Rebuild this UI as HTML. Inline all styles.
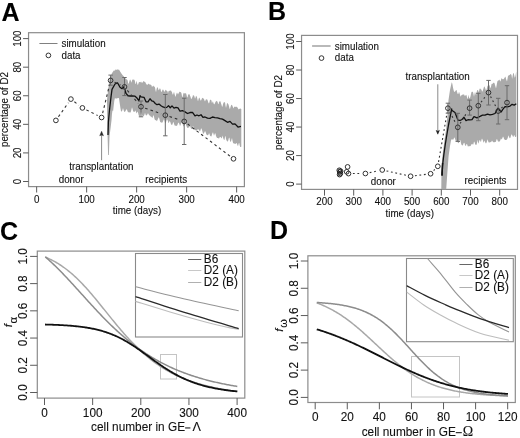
<!DOCTYPE html><html><head><meta charset="utf-8"><style>html,body{margin:0;padding:0;background:#fff;}svg{display:block;}#w{width:520px;height:438px;will-change:transform;}text{font-family:"Liberation Sans",sans-serif;-webkit-font-smoothing:antialiased;stroke:#111;stroke-width:0.1px;}</style></head><body><div id="w">
<svg width="520" height="438" viewBox="0 0 520 438">
<rect width="520" height="438" fill="#fff"/>
<text x="1.5" y="20.5" font-size="25" font-weight="bold" fill="#000">A</text>
<polygon points="107.00,99.88 107.50,95.22 108.00,90.62 108.50,87.26 109.00,83.14 109.50,79.54 110.10,78.44 110.70,76.78 111.30,74.95 111.90,73.15 112.43,72.52 112.95,71.64 113.47,70.96 114.00,70.28 114.50,70.66 115.00,70.54 115.50,69.41 116.00,69.56 116.50,69.69 117.00,70.11 117.50,69.26 118.00,69.40 118.56,69.77 119.12,69.86 119.68,70.71 120.24,71.70 120.80,72.46 121.34,73.55 121.88,73.95 122.42,74.93 122.96,75.46 123.50,75.94 124.03,76.68 124.55,77.46 125.08,78.09 125.60,78.48 126.12,79.22 126.65,79.18 127.17,79.71 127.70,80.51 128.21,83.65 128.72,83.49 129.24,81.63 129.75,80.04 130.26,79.62 130.78,80.73 131.29,82.78 131.80,81.33 132.32,79.76 132.84,79.44 133.36,79.60 133.88,79.67 134.40,79.83 134.92,81.20 135.44,84.15 135.96,83.39 136.48,80.73 137.00,82.47 137.50,84.80 138.00,84.65 138.50,83.21 139.00,81.89 139.50,82.04 140.00,82.24 140.53,82.15 141.06,81.60 141.59,82.52 142.11,82.93 142.64,82.36 143.17,81.56 143.70,80.91 144.22,81.77 144.74,81.63 145.25,81.91 145.77,83.30 146.29,84.06 146.81,84.82 147.32,84.72 147.84,84.56 148.36,83.82 148.88,83.77 149.39,84.38 149.91,84.44 150.43,84.60 150.95,84.98 151.46,85.34 151.98,86.91 152.50,86.49 153.00,85.72 153.50,85.83 154.00,86.64 154.50,86.50 155.00,87.43 155.50,90.15 156.00,92.31 156.50,89.62 157.00,87.57 157.50,87.24 158.00,88.31 158.50,89.96 159.00,90.28 159.50,88.51 160.00,88.42 160.50,89.10 161.00,91.13 161.50,92.36 162.00,91.05 162.50,89.73 163.00,89.53 163.50,90.01 164.00,91.52 164.50,91.74 165.00,90.97 165.50,89.81 166.00,90.07 166.50,90.66 167.00,90.65 167.50,91.58 168.00,93.15 168.50,91.15 169.00,90.96 169.50,90.87 170.00,90.67 170.50,90.60 171.00,90.47 171.50,91.48 172.00,92.16 172.50,94.14 173.00,94.81 173.50,93.27 174.00,91.72 174.50,93.79 175.00,95.58 175.50,97.05 176.00,95.31 176.50,93.62 177.00,92.62 177.50,93.50 178.00,94.57 178.50,93.51 179.00,92.45 179.50,91.62 180.00,92.13 180.50,91.96 181.00,92.24 181.50,93.57 182.00,96.27 182.50,97.77 183.00,95.04 183.50,93.16 184.00,92.82 184.50,93.47 185.00,93.43 185.50,93.19 186.00,93.21 186.50,94.80 187.00,96.95 187.50,97.62 188.00,95.37 188.50,94.35 189.00,94.31 189.50,94.27 190.00,95.63 190.50,96.68 191.00,98.72 191.50,99.06 192.00,97.72 192.50,96.90 193.00,94.94 193.50,95.45 194.00,95.44 194.50,96.66 195.00,98.71 195.50,97.82 196.00,95.75 196.50,96.37 197.00,97.20 197.50,99.57 198.00,101.51 198.50,99.14 199.00,97.70 199.50,97.73 200.00,99.07 200.50,100.49 201.00,100.51 201.50,99.38 202.00,98.34 202.50,97.87 203.00,98.25 203.50,98.55 204.00,99.07 204.50,100.60 205.00,101.47 205.50,100.24 206.00,99.28 206.50,99.41 207.00,99.25 207.50,99.95 208.00,101.42 208.50,103.12 209.00,103.51 209.50,101.90 210.00,99.60 210.50,100.04 211.00,99.67 211.50,100.71 212.00,103.51 212.50,101.76 213.00,101.45 213.50,103.36 214.00,104.22 214.50,104.13 215.00,103.06 215.50,101.99 216.00,101.26 216.50,100.72 217.00,101.45 217.50,101.52 218.00,103.66 218.50,104.25 219.00,102.25 219.50,101.32 220.00,101.58 220.50,101.36 221.00,103.52 221.50,104.84 222.00,106.63 222.50,106.42 223.00,104.22 223.50,102.81 224.00,102.20 224.50,102.17 225.00,102.28 225.50,105.55 226.00,108.04 226.50,105.85 227.00,102.97 227.50,103.17 228.00,103.69 228.50,104.55 229.00,106.33 229.50,108.57 230.00,109.00 230.50,106.95 231.00,105.45 231.50,104.85 232.00,105.00 232.50,105.94 233.00,107.26 233.50,108.55 234.00,107.37 234.50,106.78 235.00,106.51 235.53,106.95 236.05,106.71 236.57,106.85 237.10,107.06 237.62,107.70 238.15,108.83 238.68,109.58 239.20,108.92 239.73,108.64 240.25,108.51 240.78,108.66 241.30,108.88 241.30,146.83 240.78,146.89 240.25,147.06 239.73,145.54 239.20,142.64 238.68,143.59 238.15,145.87 237.62,145.63 237.10,144.05 236.57,143.11 236.05,143.34 235.53,144.02 235.00,143.77 234.50,143.60 234.00,143.86 233.50,143.20 233.00,142.84 232.50,140.63 232.00,137.99 231.50,139.60 231.00,141.40 230.50,142.06 230.00,140.81 229.50,138.04 229.00,137.55 228.50,139.56 228.00,141.21 227.50,141.40 227.00,141.14 226.50,140.23 226.00,139.04 225.50,135.87 225.00,137.05 224.50,139.94 224.00,139.81 223.50,138.93 223.00,137.27 222.50,135.39 222.00,137.67 221.50,138.46 221.00,137.48 220.50,137.07 220.00,136.88 219.50,137.46 219.00,138.64 218.50,138.13 218.00,138.00 217.50,138.11 217.00,137.90 216.50,136.88 216.00,135.93 215.50,133.60 215.00,133.35 214.50,134.57 214.00,135.76 213.50,133.96 213.00,132.32 212.50,133.08 212.00,134.49 211.50,136.35 211.00,136.40 210.50,136.06 210.00,135.79 209.50,133.76 209.00,133.14 208.50,134.42 208.00,135.16 207.50,135.34 207.00,134.67 206.50,134.79 206.00,133.22 205.50,131.64 205.00,130.89 204.50,132.14 204.00,133.09 203.50,133.73 203.00,133.78 202.50,131.81 202.00,130.05 201.50,128.51 201.00,128.52 200.50,130.31 200.00,131.51 199.50,131.07 199.00,129.93 198.50,129.43 198.00,128.95 197.50,129.68 197.00,129.86 196.50,130.85 196.00,130.27 195.50,130.21 195.00,130.32 194.50,129.64 194.00,129.18 193.50,127.13 193.00,125.69 192.50,127.43 192.00,129.12 191.50,128.77 191.00,128.62 190.50,127.29 190.00,125.40 189.50,126.60 189.00,127.71 188.50,127.59 188.00,127.51 187.50,128.01 187.00,127.61 186.50,126.08 186.00,125.04 185.50,123.11 185.00,124.12 184.50,125.36 184.00,125.82 183.50,126.65 183.00,124.89 182.50,123.54 182.00,122.21 181.50,122.48 181.00,123.72 180.50,125.34 180.00,126.08 179.50,124.52 179.00,123.31 178.50,122.47 178.00,123.36 177.50,124.76 177.00,125.73 176.50,126.06 176.00,125.58 175.50,125.79 175.00,125.81 174.50,125.33 174.00,123.65 173.50,122.11 173.00,122.44 172.50,124.25 172.00,124.98 171.50,124.67 171.00,124.21 170.50,122.45 170.00,121.48 169.50,121.02 169.00,122.41 168.50,123.34 168.00,121.42 167.50,120.02 167.00,119.24 166.50,120.54 166.00,122.29 165.50,123.28 165.00,122.76 164.50,120.45 164.00,119.28 163.50,119.97 163.00,121.38 162.50,122.21 162.00,122.89 161.50,122.48 161.00,122.35 160.50,122.13 160.00,121.52 159.50,119.27 159.00,117.42 158.50,117.46 158.00,118.97 157.50,119.84 157.00,121.14 156.50,120.67 156.00,119.99 155.50,120.36 155.00,119.91 154.50,118.91 154.00,116.66 153.50,114.98 153.00,116.33 152.50,118.12 152.00,117.62 151.50,116.90 151.00,116.55 150.50,116.40 150.00,115.54 149.50,115.55 149.00,114.94 148.50,113.88 148.00,113.17 147.50,113.96 147.00,115.25 146.50,115.21 146.00,115.43 145.50,114.43 145.00,112.87 144.50,114.51 144.00,115.75 143.50,115.96 143.00,116.20 142.50,116.26 142.00,114.81 141.50,113.56 141.00,111.58 140.50,113.93 140.00,116.03 139.50,116.41 139.00,116.02 138.50,114.83 138.00,112.50 137.50,111.45 137.00,112.62 136.50,113.54 136.00,112.09 135.50,110.35 135.00,111.59 134.50,111.80 134.00,111.85 133.50,111.81 133.00,110.79 132.50,108.72 132.00,107.27 131.50,109.19 131.00,111.27 130.50,112.55 130.00,112.49 129.50,112.15 129.00,112.59 128.50,112.26 128.00,112.01 127.50,111.20 127.00,109.56 126.50,109.26 126.00,109.90 125.50,110.93 125.00,111.70 124.50,112.00 124.00,111.33 123.50,109.68 123.00,108.07 122.50,109.82 122.00,111.21 121.50,111.49 121.00,111.22 120.50,108.54 120.00,105.32 119.50,101.93 119.00,98.34 118.50,98.10 118.00,98.10 117.50,98.38 117.00,97.78 116.50,98.48 116.00,99.32 115.50,98.19 115.00,97.67 114.30,100.79 113.60,106.74 113.07,111.18 112.53,110.22 112.00,113.87 111.50,120.35 111.00,124.38 110.50,128.45 110.00,132.47 109.50,135.95 108.90,154.90 108.10,155.08 107.30,126.02 107.00,101.58" fill="#aaaaaa" stroke="none"/>
<polyline points="108.00,135.00 108.40,122.00 109.50,110.00 111.00,97.00 112.00,89.40 115.00,84.00 117.50,82.80 120.00,87.30 122.00,88.70 124.00,86.70 126.00,93.50 128.00,95.60 128.00,95.97 130.00,95.98 132.00,95.79 135.00,96.23 137.00,98.02 139.00,100.97 140.00,95.59 141.00,96.90 144.00,97.33 146.00,101.85 148.00,101.85 150.00,98.74 151.75,100.96 153.50,101.44 155.25,103.48 157.00,104.72 159.00,104.07 161.00,105.72 163.00,106.94 165.00,107.65 166.75,107.35 168.50,105.68 170.25,107.74 172.00,105.92 174.00,108.13 176.00,107.43 178.00,107.83 180.00,111.21 182.50,110.53 185.00,111.85 187.50,113.50 190.00,112.52 192.50,112.32 195.00,115.88 197.00,115.00 199.00,115.79 201.00,114.75 203.00,117.34 205.00,116.97 207.50,118.20 210.00,118.38 212.50,117.00 215.00,117.58 217.50,117.80 220.00,118.54 222.50,119.10 225.00,120.60 227.50,122.31 230.00,121.31 232.50,124.13 235.00,123.91 238.00,127.03 241.00,126.46" fill="none" stroke="#111" stroke-width="1.3" stroke-linejoin="round"/>
<line x1="58.43" y1="116.80" x2="68.37" y2="102.70" stroke="#333" stroke-width="1.1" stroke-dasharray="2.6,3"/>
<line x1="74.39" y1="101.77" x2="78.91" y2="105.23" stroke="#333" stroke-width="1.1" stroke-dasharray="2.6,3"/>
<line x1="86.34" y1="109.87" x2="97.66" y2="115.53" stroke="#333" stroke-width="1.1" stroke-dasharray="2.6,3"/>
<line x1="102.64" y1="113.22" x2="109.56" y2="84.68" stroke="#333" stroke-width="1.1" stroke-dasharray="2.6,3"/>
<line x1="114.59" y1="82.26" x2="120.51" y2="85.04" stroke="#333" stroke-width="1.1" stroke-dasharray="2.6,3"/>
<line x1="127.32" y1="90.28" x2="138.18" y2="103.32" stroke="#333" stroke-width="1.1" stroke-dasharray="2.6,3"/>
<line x1="145.15" y1="108.15" x2="161.15" y2="113.75" stroke="#333" stroke-width="1.1" stroke-dasharray="2.6,3"/>
<line x1="169.48" y1="116.57" x2="180.02" y2="120.03" stroke="#333" stroke-width="1.1" stroke-dasharray="2.6,3"/>
<line x1="187.71" y1="124.06" x2="229.99" y2="156.14" stroke="#333" stroke-width="1.1" stroke-dasharray="2.6,3"/>
<path d="M110.6,75.1V85.2M108.39999999999999,75.1H112.8M108.39999999999999,85.2H112.8" stroke="#6a6a6a" stroke-width="1" fill="none"/>
<path d="M124.5,77.5V95.6M122.3,77.5H126.7M122.3,95.6H126.7" stroke="#6a6a6a" stroke-width="1" fill="none"/>
<path d="M141,101V116.8M138.8,101H143.2M138.8,116.8H143.2" stroke="#6a6a6a" stroke-width="1" fill="none"/>
<path d="M165.3,94.5V135.8M163.10000000000002,94.5H167.5M163.10000000000002,135.8H167.5" stroke="#6a6a6a" stroke-width="1" fill="none"/>
<path d="M184.2,98.2V144.5M182.0,98.2H186.39999999999998M182.0,144.5H186.39999999999998" stroke="#6a6a6a" stroke-width="1" fill="none"/>
<circle cx="55.9" cy="120.4" r="2.35" fill="none" stroke="#333" stroke-width="1"/>
<circle cx="70.9" cy="99.1" r="2.35" fill="none" stroke="#333" stroke-width="1"/>
<circle cx="82.4" cy="107.9" r="2.35" fill="none" stroke="#333" stroke-width="1"/>
<circle cx="101.6" cy="117.5" r="2.35" fill="none" stroke="#333" stroke-width="1"/>
<circle cx="110.6" cy="80.4" r="2.35" fill="none" stroke="#333" stroke-width="1"/>
<circle cx="124.5" cy="86.9" r="2.35" fill="none" stroke="#333" stroke-width="1"/>
<circle cx="141" cy="106.7" r="2.35" fill="none" stroke="#333" stroke-width="1"/>
<circle cx="165.3" cy="115.2" r="2.35" fill="none" stroke="#333" stroke-width="1"/>
<circle cx="184.2" cy="121.4" r="2.35" fill="none" stroke="#333" stroke-width="1"/>
<circle cx="233.5" cy="158.8" r="2.35" fill="none" stroke="#333" stroke-width="1"/>
<path d="M101.6,160.2V134.5" stroke="#8a8a8a" stroke-width="1" fill="none"/>
<path d="M101.6,131.2L99.7,135.8L101.6,135L103.5,135.8Z" fill="#2a2a2a" stroke="#2a2a2a" stroke-width="0.4"/>
<rect x="28.55" y="32.7" width="215.85" height="153.89999999999998" fill="none" stroke="#8c8c8c" stroke-width="1.2"/>
<line x1="23.05" y1="181.5" x2="28.55" y2="181.5" stroke="#5c5c5c" stroke-width="1"/>
<text transform="translate(20.5,181.5) rotate(-90) scale(1,1.045)" font-size="9.8" text-anchor="middle" fill="#111">0</text>
<line x1="23.05" y1="152.92" x2="28.55" y2="152.92" stroke="#5c5c5c" stroke-width="1"/>
<text transform="translate(20.5,152.92) rotate(-90) scale(1,1.045)" font-size="9.8" text-anchor="middle" fill="#111">20</text>
<line x1="23.05" y1="124.34" x2="28.55" y2="124.34" stroke="#5c5c5c" stroke-width="1"/>
<text transform="translate(20.5,124.34) rotate(-90) scale(1,1.045)" font-size="9.8" text-anchor="middle" fill="#111">40</text>
<line x1="23.05" y1="95.75999999999999" x2="28.55" y2="95.75999999999999" stroke="#5c5c5c" stroke-width="1"/>
<text transform="translate(20.5,95.75999999999999) rotate(-90) scale(1,1.045)" font-size="9.8" text-anchor="middle" fill="#111">60</text>
<line x1="23.05" y1="67.17999999999999" x2="28.55" y2="67.17999999999999" stroke="#5c5c5c" stroke-width="1"/>
<text transform="translate(20.5,67.17999999999999) rotate(-90) scale(1,1.045)" font-size="9.8" text-anchor="middle" fill="#111">80</text>
<line x1="23.05" y1="38.599999999999994" x2="28.55" y2="38.599999999999994" stroke="#5c5c5c" stroke-width="1"/>
<text transform="translate(20.5,38.599999999999994) rotate(-90) scale(1,1.045)" font-size="9.8" text-anchor="middle" fill="#111">100</text>
<line x1="36.65" y1="186.6" x2="36.65" y2="192.5" stroke="#5c5c5c" stroke-width="1"/>
<text transform="translate(36.65,202.7) scale(1,1.045)" font-size="9.8" text-anchor="middle" fill="#111" >0</text>
<line x1="86.65" y1="186.6" x2="86.65" y2="192.5" stroke="#5c5c5c" stroke-width="1"/>
<text transform="translate(86.65,202.7) scale(1,1.045)" font-size="9.8" text-anchor="middle" fill="#111" >100</text>
<line x1="136.65" y1="186.6" x2="136.65" y2="192.5" stroke="#5c5c5c" stroke-width="1"/>
<text transform="translate(136.65,202.7) scale(1,1.045)" font-size="9.8" text-anchor="middle" fill="#111" >200</text>
<line x1="186.65" y1="186.6" x2="186.65" y2="192.5" stroke="#5c5c5c" stroke-width="1"/>
<text transform="translate(186.65,202.7) scale(1,1.045)" font-size="9.8" text-anchor="middle" fill="#111" >300</text>
<line x1="236.65" y1="186.6" x2="236.65" y2="192.5" stroke="#5c5c5c" stroke-width="1"/>
<text transform="translate(236.65,202.7) scale(1,1.045)" font-size="9.8" text-anchor="middle" fill="#111" >400</text>
<text transform="translate(137,214.4) scale(1,1.045)" font-size="9.8" text-anchor="middle" fill="#111" >time (days)</text>
<text transform="translate(8.2,109.5) rotate(-90) scale(1,1.045)" font-size="9.8" text-anchor="middle" fill="#111">percentage of D2</text>
<line x1="39.4" y1="43.5" x2="57.5" y2="43.5" stroke="#808080" stroke-width="1"/>
<circle cx="48.4" cy="55.4" r="2.35" fill="none" stroke="#333" stroke-width="1"/>
<text transform="translate(61.5,46.9) scale(1,1.045)" font-size="9.8" text-anchor="start" fill="#111" >simulation</text>
<text transform="translate(61.5,58.5) scale(1,1.045)" font-size="9.8" text-anchor="start" fill="#111" >data</text>
<text transform="translate(69.3,169.7) scale(1,1.045)" font-size="9.8" text-anchor="start" fill="#111" >transplantation</text>
<text transform="translate(58.7,183) scale(1,1.045)" font-size="9.8" text-anchor="start" fill="#111" >donor</text>
<text transform="translate(145.2,183) scale(1,1.045)" font-size="9.8" text-anchor="start" fill="#111" >recipients</text>
<text x="268" y="20" font-size="25" font-weight="bold" fill="#000">B</text>
<rect x="301.55" y="35.4" width="215.95" height="154.0" fill="none" stroke="#8c8c8c" stroke-width="1.2"/>
<line x1="296.15000000000003" y1="184.1" x2="301.55" y2="184.1" stroke="#5c5c5c" stroke-width="1"/>
<text transform="translate(293.7,184.1) rotate(-90) scale(1,1.045)" font-size="9.8" text-anchor="middle" fill="#111">0</text>
<line x1="296.15000000000003" y1="155.57999999999998" x2="301.55" y2="155.57999999999998" stroke="#5c5c5c" stroke-width="1"/>
<text transform="translate(293.7,155.57999999999998) rotate(-90) scale(1,1.045)" font-size="9.8" text-anchor="middle" fill="#111">20</text>
<line x1="296.15000000000003" y1="127.06" x2="301.55" y2="127.06" stroke="#5c5c5c" stroke-width="1"/>
<text transform="translate(293.7,127.06) rotate(-90) scale(1,1.045)" font-size="9.8" text-anchor="middle" fill="#111">40</text>
<line x1="296.15000000000003" y1="98.53999999999999" x2="301.55" y2="98.53999999999999" stroke="#5c5c5c" stroke-width="1"/>
<text transform="translate(293.7,98.53999999999999) rotate(-90) scale(1,1.045)" font-size="9.8" text-anchor="middle" fill="#111">60</text>
<line x1="296.15000000000003" y1="70.02" x2="301.55" y2="70.02" stroke="#5c5c5c" stroke-width="1"/>
<text transform="translate(293.7,70.02) rotate(-90) scale(1,1.045)" font-size="9.8" text-anchor="middle" fill="#111">80</text>
<line x1="296.15000000000003" y1="41.5" x2="301.55" y2="41.5" stroke="#5c5c5c" stroke-width="1"/>
<text transform="translate(293.7,41.5) rotate(-90) scale(1,1.045)" font-size="9.8" text-anchor="middle" fill="#111">100</text>
<line x1="324.5" y1="189.4" x2="324.5" y2="195.6" stroke="#5c5c5c" stroke-width="1"/>
<text transform="translate(324.5,205) scale(1,1.045)" font-size="9.8" text-anchor="middle" fill="#111" >200</text>
<line x1="353.7" y1="189.4" x2="353.7" y2="195.6" stroke="#5c5c5c" stroke-width="1"/>
<text transform="translate(353.7,205) scale(1,1.045)" font-size="9.8" text-anchor="middle" fill="#111" >300</text>
<line x1="382.9" y1="189.4" x2="382.9" y2="195.6" stroke="#5c5c5c" stroke-width="1"/>
<text transform="translate(382.9,205) scale(1,1.045)" font-size="9.8" text-anchor="middle" fill="#111" >400</text>
<line x1="412.1" y1="189.4" x2="412.1" y2="195.6" stroke="#5c5c5c" stroke-width="1"/>
<text transform="translate(412.1,205) scale(1,1.045)" font-size="9.8" text-anchor="middle" fill="#111" >500</text>
<line x1="441.3" y1="189.4" x2="441.3" y2="195.6" stroke="#5c5c5c" stroke-width="1"/>
<text transform="translate(441.3,205) scale(1,1.045)" font-size="9.8" text-anchor="middle" fill="#111" >600</text>
<line x1="470.5" y1="189.4" x2="470.5" y2="195.6" stroke="#5c5c5c" stroke-width="1"/>
<text transform="translate(470.5,205) scale(1,1.045)" font-size="9.8" text-anchor="middle" fill="#111" >700</text>
<line x1="499.7" y1="189.4" x2="499.7" y2="195.6" stroke="#5c5c5c" stroke-width="1"/>
<text transform="translate(499.7,205) scale(1,1.045)" font-size="9.8" text-anchor="middle" fill="#111" >800</text>
<line x1="312.1" y1="46" x2="330.6" y2="46" stroke="#adadad" stroke-width="1.7"/>
<circle cx="321.5" cy="58.1" r="2.35" fill="none" stroke="#333" stroke-width="1"/>
<text transform="translate(334.8,49.6) scale(1,1.045)" font-size="9.8" text-anchor="start" fill="#111" >simulation</text>
<text transform="translate(334.8,61.2) scale(1,1.045)" font-size="9.8" text-anchor="start" fill="#111" >data</text>
<text transform="translate(405.5,79.6) scale(1,1.045)" font-size="9.8" text-anchor="start" fill="#111" >transplantation</text>
<polygon points="441.30,189.20 441.40,175.00 442.00,160.00 443.20,150.00 444.50,140.00 446.00,130.00 447.50,115.00 448.50,100.00 450.00,90.00 451.70,82.32 452.35,83.86 453.00,87.53 453.50,89.80 454.00,91.55 454.50,91.90 455.00,91.59 455.50,91.02 456.00,90.01 456.50,89.96 457.00,91.86 457.50,93.54 458.00,94.18 458.50,93.47 459.00,91.68 459.50,93.00 460.00,94.67 460.50,96.56 461.00,96.28 461.50,95.09 462.00,95.11 462.50,94.58 463.00,94.70 463.50,94.42 464.00,94.35 464.50,95.46 465.00,96.12 465.50,95.49 466.00,94.86 466.50,95.24 467.00,97.19 467.50,99.36 468.00,97.46 468.50,94.85 469.00,97.32 469.50,98.47 470.00,97.95 470.50,96.35 471.00,93.97 471.50,92.06 472.00,91.82 472.50,91.77 473.00,92.11 473.50,94.15 474.00,96.85 474.50,94.05 475.00,91.76 475.50,93.47 476.00,95.34 476.50,93.00 477.00,90.85 477.50,90.00 478.00,90.07 478.50,92.07 479.00,91.42 479.50,88.95 480.00,88.45 480.50,88.70 481.00,89.41 481.50,89.82 482.00,91.42 482.50,91.58 483.00,89.98 483.50,88.45 484.00,86.86 484.50,86.62 485.00,87.74 485.50,88.90 486.00,91.00 486.50,89.68 487.00,88.00 487.50,85.88 488.00,85.43 488.50,85.14 489.00,85.38 489.50,85.06 490.00,86.85 490.50,88.51 491.00,86.64 491.50,84.35 492.00,83.66 492.50,83.93 493.00,83.12 493.50,82.73 494.00,82.70 494.50,83.36 495.00,84.93 495.50,86.81 496.00,88.43 496.50,86.12 497.00,83.30 497.50,81.02 498.00,80.67 498.50,80.40 499.00,79.81 499.50,79.78 500.00,80.92 500.50,81.55 501.00,79.70 501.50,78.01 502.00,78.67 502.50,78.90 503.00,79.51 503.50,79.04 504.00,78.73 504.50,77.81 505.00,77.20 505.50,76.61 506.00,78.64 506.50,80.24 507.00,81.42 507.50,78.73 508.00,76.02 508.50,75.44 509.00,75.16 509.50,74.98 510.00,74.83 510.52,74.12 511.05,74.13 511.57,75.36 512.10,79.12 512.62,76.07 513.15,73.18 513.67,73.01 514.20,75.21 514.72,77.68 515.25,76.74 515.77,73.95 516.30,71.49 516.30,136.24 515.77,136.90 515.25,137.05 514.72,136.03 514.20,134.82 513.67,136.15 513.15,137.19 512.62,136.06 512.10,135.07 511.57,134.30 511.05,135.52 510.52,137.42 510.00,138.29 509.50,138.11 509.00,136.78 508.50,135.32 508.00,136.90 507.50,138.42 507.00,139.60 506.50,139.69 506.00,139.98 505.50,140.02 505.00,139.94 504.50,139.48 504.00,138.72 503.50,137.23 503.00,136.39 502.50,137.68 502.00,138.89 501.50,139.61 501.00,138.29 500.50,139.69 500.00,141.06 499.50,141.51 499.00,141.75 498.50,141.49 498.00,141.38 497.50,140.23 497.00,138.91 496.50,139.58 496.00,141.45 495.50,142.01 495.00,141.91 494.50,142.25 494.00,142.30 493.50,142.16 493.00,142.03 492.50,141.17 492.00,140.58 491.50,141.60 491.00,142.21 490.50,142.09 490.00,142.16 489.50,142.48 489.00,142.60 488.50,142.29 488.00,140.73 487.50,139.30 487.00,141.30 486.50,142.72 486.00,143.39 485.50,143.02 485.00,141.77 484.50,140.48 484.00,141.93 483.50,142.74 483.00,140.87 482.50,139.39 482.00,138.43 481.50,139.72 481.00,141.89 480.50,141.45 480.00,140.02 479.50,140.17 479.00,141.65 478.50,143.68 478.00,142.51 477.50,139.71 477.00,142.90 476.50,144.68 476.00,145.02 475.50,144.79 475.00,143.80 474.50,142.06 474.00,141.52 473.50,143.73 473.00,144.89 472.50,144.06 472.00,143.64 471.50,144.25 471.00,145.35 470.50,146.01 470.00,146.21 469.50,146.19 469.00,145.90 468.50,146.37 468.00,146.63 467.50,145.48 467.00,143.98 466.50,144.03 466.00,145.64 465.50,145.86 465.00,145.24 464.50,143.09 464.00,142.83 463.50,143.47 463.00,144.88 462.50,145.52 462.00,145.33 461.50,144.69 461.00,143.18 460.50,140.87 460.00,139.70 459.50,141.09 459.00,142.61 458.50,143.16 458.00,142.94 457.50,141.73 457.00,141.46 456.50,141.32 456.00,141.89 455.50,140.19 455.00,138.69 454.50,137.27 454.00,138.34 453.50,139.04 453.00,140.28 452.50,139.50 452.00,138.85 451.00,140.50 450.00,146.00 448.60,156.00 447.20,175.00 446.20,189.20 441.30,189.20" fill="#aaaaaa" stroke="none"/>
<polyline points="442.00,176.00 442.60,165.00 443.80,155.00 445.20,145.00 446.80,135.00 448.50,125.00 451.70,108.90 451.70,110.30 455.00,112.53 458.00,120.21 460.00,120.47 462.00,119.46 464.00,117.30 466.00,120.64 468.00,119.74 470.00,119.97 472.00,119.70 474.00,116.72 477.00,117.81 480.00,116.42 482.50,115.14 485.00,115.09 487.50,114.04 490.00,114.97 492.50,114.37 495.00,113.49 498.00,108.07 501.00,112.07 503.00,109.18 505.00,106.69 507.50,106.77 510.00,106.06 512.10,104.34 514.20,105.09 516.30,103.78" fill="none" stroke="#111" stroke-width="1.3" stroke-linejoin="round"/>
<path d="M442,175L442.6,163" stroke="#111" stroke-width="1.5"/>
<line x1="352.90" y1="173.57" x2="361.00" y2="173.53" stroke="#333" stroke-width="1.1" stroke-dasharray="1.8,2.7"/>
<line x1="369.71" y1="172.61" x2="377.94" y2="170.89" stroke="#333" stroke-width="1.1" stroke-dasharray="1.8,2.7"/>
<line x1="386.55" y1="170.95" x2="406.30" y2="175.30" stroke="#333" stroke-width="1.1" stroke-dasharray="1.8,2.7"/>
<line x1="414.97" y1="175.70" x2="426.23" y2="174.30" stroke="#333" stroke-width="1.1" stroke-dasharray="1.8,2.7"/>
<line x1="433.66" y1="170.59" x2="434.74" y2="169.46" stroke="#333" stroke-width="1.1" stroke-dasharray="1.8,2.7"/>
<line x1="438.55" y1="161.97" x2="447.15" y2="112.53" stroke="#333" stroke-width="1.1" stroke-dasharray="1.8,2.7"/>
<line x1="449.92" y1="112.11" x2="455.78" y2="123.39" stroke="#333" stroke-width="1.1" stroke-dasharray="1.8,2.7"/>
<line x1="460.11" y1="123.56" x2="467.29" y2="111.94" stroke="#333" stroke-width="1.1" stroke-dasharray="1.8,2.7"/>
<line x1="481.00" y1="102.23" x2="485.80" y2="96.07" stroke="#333" stroke-width="1.1" stroke-dasharray="1.8,2.7"/>
<line x1="490.54" y1="96.50" x2="496.16" y2="107.20" stroke="#333" stroke-width="1.1" stroke-dasharray="1.8,2.7"/>
<line x1="501.36" y1="108.04" x2="503.84" y2="105.66" stroke="#333" stroke-width="1.1" stroke-dasharray="1.8,2.7"/>
<path d="M447.9,103.2V113.2M445.7,103.2H450.09999999999997M445.7,113.2H450.09999999999997" stroke="#6a6a6a" stroke-width="1" fill="none"/>
<path d="M457.8,113.3V141.4M455.6,113.3H460.0M455.6,141.4H460.0" stroke="#6a6a6a" stroke-width="1" fill="none"/>
<path d="M469.6,100.1V115.1M467.40000000000003,100.1H471.8M467.40000000000003,115.1H471.8" stroke="#6a6a6a" stroke-width="1" fill="none"/>
<path d="M478.3,93.3V120.7M476.1,93.3H480.5M476.1,120.7H480.5" stroke="#6a6a6a" stroke-width="1" fill="none"/>
<path d="M488.5,80.4V105M486.3,80.4H490.7M486.3,105H490.7" stroke="#6a6a6a" stroke-width="1" fill="none"/>
<path d="M498.2,98.3V124M496.0,98.3H500.4M496.0,124H500.4" stroke="#6a6a6a" stroke-width="1" fill="none"/>
<path d="M507,85.7V119.7M504.8,85.7H509.2M504.8,119.7H509.2" stroke="#6a6a6a" stroke-width="1" fill="none"/>
<circle cx="339.3" cy="170.3" r="2.35" fill="none" stroke="#222" stroke-width="1"/>
<circle cx="339.8" cy="172.0" r="2.35" fill="none" stroke="#222" stroke-width="1"/>
<circle cx="340.3" cy="173.6" r="2.35" fill="none" stroke="#222" stroke-width="1"/>
<circle cx="339.6" cy="174.6" r="2.35" fill="none" stroke="#222" stroke-width="1"/>
<circle cx="340.6" cy="171.2" r="2.35" fill="none" stroke="#222" stroke-width="1"/>
<circle cx="347.6" cy="166.9" r="2.35" fill="none" stroke="#333" stroke-width="1"/>
<circle cx="346.7" cy="171.8" r="2.35" fill="none" stroke="#333" stroke-width="1"/>
<circle cx="348.5" cy="173.6" r="2.35" fill="none" stroke="#333" stroke-width="1"/>
<circle cx="365.4" cy="173.5" r="2.35" fill="none" stroke="#333" stroke-width="1"/>
<circle cx="382.25" cy="170" r="2.35" fill="none" stroke="#333" stroke-width="1"/>
<circle cx="410.6" cy="176.25" r="2.35" fill="none" stroke="#333" stroke-width="1"/>
<circle cx="430.6" cy="173.75" r="2.35" fill="none" stroke="#333" stroke-width="1"/>
<circle cx="437.8" cy="166.3" r="2.35" fill="none" stroke="#333" stroke-width="1"/>
<circle cx="447.9" cy="108.2" r="2.35" fill="none" stroke="#333" stroke-width="1"/>
<circle cx="457.8" cy="127.3" r="2.35" fill="none" stroke="#333" stroke-width="1"/>
<circle cx="469.6" cy="108.2" r="2.35" fill="none" stroke="#333" stroke-width="1"/>
<circle cx="478.3" cy="105.7" r="2.35" fill="none" stroke="#333" stroke-width="1"/>
<circle cx="488.5" cy="92.6" r="2.35" fill="none" stroke="#333" stroke-width="1"/>
<circle cx="498.2" cy="111.1" r="2.35" fill="none" stroke="#333" stroke-width="1"/>
<circle cx="507" cy="102.6" r="2.35" fill="none" stroke="#333" stroke-width="1"/>
<path d="M437.8,84.3V131" stroke="#8a8a8a" stroke-width="1" fill="none"/>
<path d="M437.8,134.2L436.2,130.4L437.8,131.2L439.4,130.4Z" fill="#1a1a1a" stroke="#1a1a1a" stroke-width="0.5"/>
<text transform="translate(370.8,185.3) scale(1,1.045)" font-size="9.8" text-anchor="start" fill="#111" >donor</text>
<text transform="translate(464.6,184.4) scale(1,1.045)" font-size="9.8" text-anchor="start" fill="#111" >recipients</text>
<text transform="translate(409.7,216.6) scale(1,1.045)" font-size="9.8" text-anchor="middle" fill="#111" >time (days)</text>
<text transform="translate(281.5,112.5) rotate(-90) scale(1,1.045)" font-size="9.8" text-anchor="middle" fill="#111">percentage of D2</text>
<text x="0" y="240.2" font-size="25" font-weight="bold" fill="#000">C</text>
<rect x="160.5" y="354.5" width="16" height="24.5" fill="none" stroke="#c4c4c4" stroke-width="1"/>
<polyline points="45.30,257.03 46.30,257.46 47.30,257.89 48.30,258.35 49.30,258.81 50.30,259.30 51.30,259.79 52.30,260.31 53.30,260.83 54.30,261.38 55.30,261.94 56.30,262.52 57.30,263.11 58.30,263.72 59.30,264.35 60.30,265.00 61.30,265.66 62.30,266.34 63.30,267.04 64.30,267.76 65.30,268.50 66.30,269.25 67.30,270.03 68.30,270.82 69.30,271.63 70.30,272.46 71.30,273.30 72.30,274.17 73.30,275.05 74.30,275.96 75.30,276.88 76.30,277.82 77.30,278.77 78.30,279.75 79.30,280.74 80.30,281.74 81.30,282.77 82.30,283.81 83.30,284.86 84.30,285.94 85.30,287.02 86.30,288.12 87.30,289.24 88.30,290.36 89.30,291.50 90.30,292.65 91.30,293.82 92.30,294.99 93.30,296.17 94.30,297.37 95.30,298.57 96.30,299.78 97.30,301.00 98.30,302.22 99.30,303.45 100.30,304.68 101.30,305.92 102.30,307.16 103.30,308.41 104.30,309.65 105.30,310.90 106.30,312.15 107.30,313.40 108.30,314.64 109.30,315.89 110.30,317.13 111.30,318.37 112.30,319.60 113.30,320.83 114.30,322.05 115.30,323.27 116.30,324.49 117.30,325.69 118.30,326.89 119.30,328.08 120.30,329.26 121.30,330.43 122.30,331.59 123.30,332.74 124.30,333.89 125.30,335.02 126.30,336.13 127.30,337.24 128.30,338.34 129.30,339.42 130.30,340.49 131.30,341.55 132.30,342.60 133.30,343.63 134.30,344.65 135.30,345.65 136.30,346.64 137.30,347.62 138.30,348.59 139.30,349.54 140.30,350.47 141.30,351.39 142.30,352.30 143.30,353.20 144.30,354.08 145.30,354.94 146.30,355.79 147.30,356.63 148.30,357.45 149.30,358.26 150.30,359.06 151.30,359.84 152.30,360.61 153.30,361.36 154.30,362.11 155.30,362.83 156.30,363.55 157.30,364.25 158.30,364.94 159.30,365.61 160.30,366.28 161.30,366.93 162.30,367.57 163.30,368.19 164.30,368.80 165.30,369.41 166.30,370.00 167.30,370.57 168.30,371.14 169.30,371.70 170.30,372.24 171.30,372.78 172.30,373.30 173.30,373.81 174.30,374.31 175.30,374.80 176.30,375.29 177.30,375.76 178.30,376.22 179.30,376.67 180.30,377.12 181.30,377.55 182.30,377.97 183.30,378.39 184.30,378.80 185.30,379.20 186.30,379.59 187.30,379.97 188.30,380.34 189.30,380.71 190.30,381.07 191.30,381.42 192.30,381.76 193.30,382.09 194.30,382.42 195.30,382.74 196.30,383.06 197.30,383.37 198.30,383.67 199.30,383.96 200.30,384.25 201.30,384.53 202.30,384.81 203.30,385.08 204.30,385.34 205.30,385.60 206.30,385.85 207.30,386.10 208.30,386.34 209.30,386.57 210.30,386.81 211.30,387.03 212.30,387.25 213.30,387.47 214.30,387.68 215.30,387.89 216.30,388.09 217.30,388.29 218.30,388.48 219.30,388.67 220.30,388.85 221.30,389.03 222.30,389.21 223.30,389.38 224.30,389.55 225.30,389.72 226.30,389.88 227.30,390.04 228.30,390.19 229.30,390.34 230.30,390.49 231.30,390.64 232.30,390.78 233.30,390.91 234.30,391.05 235.30,391.18 236.30,391.31 237.30,391.44" fill="none" stroke="#a8a8a8" stroke-width="1.5"/>
<polyline points="45.30,256.91 46.30,257.77 47.30,258.65 48.30,259.54 49.30,260.44 50.30,261.35 51.30,262.28 52.30,263.21 53.30,264.16 54.30,265.11 55.30,266.08 56.30,267.05 57.30,268.04 58.30,269.03 59.30,270.03 60.30,271.05 61.30,272.07 62.30,273.10 63.30,274.13 64.30,275.18 65.30,276.23 66.30,277.28 67.30,278.35 68.30,279.42 69.30,280.49 70.30,281.57 71.30,282.65 72.30,283.74 73.30,284.83 74.30,285.93 75.30,287.03 76.30,288.13 77.30,289.23 78.30,290.34 79.30,291.44 80.30,292.55 81.30,293.66 82.30,294.77 83.30,295.87 84.30,296.98 85.30,298.09 86.30,299.19 87.30,300.30 88.30,301.40 89.30,302.50 90.30,303.59 91.30,304.68 92.30,305.77 93.30,306.86 94.30,307.94 95.30,309.02 96.30,310.09 97.30,311.16 98.30,312.22 99.30,313.27 100.30,314.32 101.30,315.37 102.30,316.41 103.30,317.44 104.30,318.46 105.30,319.48 106.30,320.49 107.30,321.49 108.30,322.49 109.30,323.48 110.30,324.46 111.30,325.43 112.30,326.39 113.30,327.35 114.30,328.29 115.30,329.23 116.30,330.16 117.30,331.08 118.30,332.00 119.30,332.90 120.30,333.79 121.30,334.68 122.30,335.56 123.30,336.42 124.30,337.28 125.30,338.13 126.30,338.97 127.30,339.80 128.30,340.62 129.30,341.43 130.30,342.23 131.30,343.02 132.30,343.81 133.30,344.58 134.30,345.35 135.30,346.10 136.30,346.85 137.30,347.59 138.30,348.31 139.30,349.03 140.30,349.74 141.30,350.44 142.30,351.13 143.30,351.82 144.30,352.49 145.30,353.15 146.30,353.81 147.30,354.46 148.30,355.10 149.30,355.72 150.30,356.35 151.30,356.96 152.30,357.56 153.30,358.16 154.30,358.75 155.30,359.33 156.30,359.90 157.30,360.46 158.30,361.02 159.30,361.56 160.30,362.10 161.30,362.64 162.30,363.16 163.30,363.68 164.30,364.19 165.30,364.69 166.30,365.18 167.30,365.67 168.30,366.15 169.30,366.62 170.30,367.09 171.30,367.55 172.30,368.00 173.30,368.45 174.30,368.89 175.30,369.32 176.30,369.75 177.30,370.17 178.30,370.58 179.30,370.99 180.30,371.39 181.30,371.78 182.30,372.17 183.30,372.56 184.30,372.93 185.30,373.30 186.30,373.67 187.30,374.03 188.30,374.39 189.30,374.74 190.30,375.08 191.30,375.42 192.30,375.75 193.30,376.08 194.30,376.40 195.30,376.72 196.30,377.03 197.30,377.34 198.30,377.65 199.30,377.95 200.30,378.24 201.30,378.53 202.30,378.81 203.30,379.10 204.30,379.37 205.30,379.64 206.30,379.91 207.30,380.17 208.30,380.43 209.30,380.69 210.30,380.94 211.30,381.19 212.30,381.43 213.30,381.67 214.30,381.91 215.30,382.14 216.30,382.37 217.30,382.59 218.30,382.82 219.30,383.03 220.30,383.25 221.30,383.46 222.30,383.67 223.30,383.87 224.30,384.07 225.30,384.27 226.30,384.46 227.30,384.66 228.30,384.85 229.30,385.03 230.30,385.21 231.30,385.39 232.30,385.57 233.30,385.75 234.30,385.92 235.30,386.09 236.30,386.25 237.30,386.42" fill="none" stroke="#8c8c8c" stroke-width="1.5"/>
<polyline points="45.00,324.51 46.00,324.54 47.00,324.56 48.00,324.59 49.00,324.62 50.00,324.65 51.00,324.68 52.00,324.72 53.00,324.75 54.00,324.79 55.00,324.83 56.00,324.87 57.00,324.91 58.00,324.96 59.00,325.01 60.00,325.06 61.00,325.11 62.00,325.16 63.00,325.22 64.00,325.28 65.00,325.34 66.00,325.40 67.00,325.47 68.00,325.54 69.00,325.61 70.00,325.69 71.00,325.77 72.00,325.85 73.00,325.94 74.00,326.03 75.00,326.13 76.00,326.23 77.00,326.33 78.00,326.44 79.00,326.55 80.00,326.67 81.00,326.79 82.00,326.92 83.00,327.06 84.00,327.20 85.00,327.34 86.00,327.49 87.00,327.65 88.00,327.82 89.00,327.99 90.00,328.17 91.00,328.35 92.00,328.55 93.00,328.75 94.00,328.96 95.00,329.18 96.00,329.40 97.00,329.64 98.00,329.88 99.00,330.14 100.00,330.40 101.00,330.67 102.00,330.96 103.00,331.25 104.00,331.55 105.00,331.87 106.00,332.19 107.00,332.53 108.00,332.88 109.00,333.24 110.00,333.61 111.00,333.99 112.00,334.39 113.00,334.80 114.00,335.22 115.00,335.65 116.00,336.10 117.00,336.55 118.00,337.02 119.00,337.51 120.00,338.00 121.00,338.51 122.00,339.03 123.00,339.57 124.00,340.11 125.00,340.67 126.00,341.24 127.00,341.82 128.00,342.42 129.00,343.02 130.00,343.64 131.00,344.27 132.00,344.90 133.00,345.55 134.00,346.20 135.00,346.87 136.00,347.54 137.00,348.22 138.00,348.91 139.00,349.61 140.00,350.31 141.00,351.02 142.00,351.73 143.00,352.45 144.00,353.17 145.00,353.89 146.00,354.62 147.00,355.35 148.00,356.07 149.00,356.80 150.00,357.53 151.00,358.26 152.00,358.99 153.00,359.71 154.00,360.44 155.00,361.16 156.00,361.87 157.00,362.58 158.00,363.29 159.00,363.99 160.00,364.68 161.00,365.37 162.00,366.05 163.00,366.72 164.00,367.38 165.00,368.04 166.00,368.69 167.00,369.33 168.00,369.96 169.00,370.58 170.00,371.19 171.00,371.79 172.00,372.38 173.00,372.96 174.00,373.53 175.00,374.09 176.00,374.64 177.00,375.17 178.00,375.70 179.00,376.22 180.00,376.72 181.00,377.22 182.00,377.70 183.00,378.17 184.00,378.63 185.00,379.09 186.00,379.53 187.00,379.96 188.00,380.38 189.00,380.79 190.00,381.18 191.00,381.57 192.00,381.95 193.00,382.32 194.00,382.68 195.00,383.03 196.00,383.37 197.00,383.71 198.00,384.03 199.00,384.34 200.00,384.65 201.00,384.95 202.00,385.24 203.00,385.52 204.00,385.79 205.00,386.05 206.00,386.31 207.00,386.56 208.00,386.81 209.00,387.04 210.00,387.27 211.00,387.49 212.00,387.71 213.00,387.92 214.00,388.12 215.00,388.32 216.00,388.51 217.00,388.69 218.00,388.87 219.00,389.05 220.00,389.22 221.00,389.38 222.00,389.54 223.00,389.69 224.00,389.84 225.00,389.99 226.00,390.13 227.00,390.26 228.00,390.40 229.00,390.52 230.00,390.65 231.00,390.77 232.00,390.88 233.00,391.00 234.00,391.10 235.00,391.21 236.00,391.31 237.00,391.41 237.30,391.44" fill="none" stroke="#111" stroke-width="1.8"/>
<rect x="135.5" y="253.5" width="107" height="83.5" fill="#fff" stroke="#8a8a8a" stroke-width="1.1"/>
<path d="M135.50,286.80 C144.08,288.92 169.80,295.50 187.00,299.50 C204.20,303.50 230.08,308.92 238.70,310.80" fill="none" stroke="#959595" stroke-width="1.1"/>
<path d="M135.50,301.40 C141.25,303.17 159.42,308.87 170.00,312.00 C180.58,315.13 189.83,317.73 199.00,320.20 C208.17,322.67 218.38,325.27 225.00,326.80 C231.62,328.33 236.42,328.97 238.70,329.40" fill="none" stroke="#bdbdbd" stroke-width="1.1"/>
<path d="M135.50,296.60 C144.08,299.37 169.80,307.87 187.00,313.20 C204.20,318.53 230.08,326.03 238.70,328.60" fill="none" stroke="#2a2a2a" stroke-width="1.3"/>
<line x1="188.1" y1="259.5" x2="201.3" y2="259.5" stroke="#666" stroke-width="1"/>
<line x1="188.1" y1="270.5" x2="201.3" y2="270.5" stroke="#c8c8c8" stroke-width="1"/>
<line x1="188.1" y1="282.5" x2="201.3" y2="282.5" stroke="#b0b0b0" stroke-width="1"/>
<text transform="translate(203.8,263) scale(1,1.045)" font-size="11.8" text-anchor="start" fill="#111" >B6</text>
<text transform="translate(203.8,274.2) scale(1,1.045)" font-size="11.8" text-anchor="start" fill="#111" >D2 (A)</text>
<text transform="translate(203.8,285.6) scale(1,1.045)" font-size="11.8" text-anchor="start" fill="#111" >D2 (B)</text>
<rect x="37.3" y="251.1" width="207.5" height="147.00000000000003" fill="none" stroke="#8c8c8c" stroke-width="1.2"/>
<line x1="30.099999999999998" y1="392.5" x2="37.3" y2="392.5" stroke="#5c5c5c" stroke-width="1"/>
<text transform="translate(26.9,392.5) rotate(-90) scale(1,1.045)" font-size="11.8" text-anchor="middle" fill="#111">0.0</text>
<line x1="30.099999999999998" y1="365.28" x2="37.3" y2="365.28" stroke="#5c5c5c" stroke-width="1"/>
<text transform="translate(26.9,365.28) rotate(-90) scale(1,1.045)" font-size="11.8" text-anchor="middle" fill="#111">0.2</text>
<line x1="30.099999999999998" y1="338.06" x2="37.3" y2="338.06" stroke="#5c5c5c" stroke-width="1"/>
<text transform="translate(26.9,338.06) rotate(-90) scale(1,1.045)" font-size="11.8" text-anchor="middle" fill="#111">0.4</text>
<line x1="30.099999999999998" y1="310.84000000000003" x2="37.3" y2="310.84000000000003" stroke="#5c5c5c" stroke-width="1"/>
<text transform="translate(26.9,310.84000000000003) rotate(-90) scale(1,1.045)" font-size="11.8" text-anchor="middle" fill="#111">0.6</text>
<line x1="30.099999999999998" y1="283.62" x2="37.3" y2="283.62" stroke="#5c5c5c" stroke-width="1"/>
<text transform="translate(26.9,283.62) rotate(-90) scale(1,1.045)" font-size="11.8" text-anchor="middle" fill="#111">0.8</text>
<line x1="30.099999999999998" y1="256.4" x2="37.3" y2="256.4" stroke="#5c5c5c" stroke-width="1"/>
<text transform="translate(26.9,256.4) rotate(-90) scale(1,1.045)" font-size="11.8" text-anchor="middle" fill="#111">1.0</text>
<line x1="44.5" y1="398.1" x2="44.5" y2="405.0" stroke="#5c5c5c" stroke-width="1"/>
<text transform="translate(44.5,416.6) scale(1,1.045)" font-size="11.8" text-anchor="middle" fill="#111" >0</text>
<line x1="92.65" y1="398.1" x2="92.65" y2="405.0" stroke="#5c5c5c" stroke-width="1"/>
<text transform="translate(92.65,416.6) scale(1,1.045)" font-size="11.8" text-anchor="middle" fill="#111" >100</text>
<line x1="140.8" y1="398.1" x2="140.8" y2="405.0" stroke="#5c5c5c" stroke-width="1"/>
<text transform="translate(140.8,416.6) scale(1,1.045)" font-size="11.8" text-anchor="middle" fill="#111" >200</text>
<line x1="188.95" y1="398.1" x2="188.95" y2="405.0" stroke="#5c5c5c" stroke-width="1"/>
<text transform="translate(188.95,416.6) scale(1,1.045)" font-size="11.8" text-anchor="middle" fill="#111" >300</text>
<line x1="237.1" y1="398.1" x2="237.1" y2="405.0" stroke="#5c5c5c" stroke-width="1"/>
<text transform="translate(237.1,416.6) scale(1,1.045)" font-size="11.8" text-anchor="middle" fill="#111" >400</text>
<text transform="translate(91,430.7) scale(1,1.045)" font-size="11.85" text-anchor="start" fill="#111" >cell number in GE</text>
<rect x="185.1" y="427.4" width="5.3" height="1.1" fill="#222"/>
<text x="192.5" y="430.7" font-size="12.6" fill="#111">Λ</text>
<text transform="translate(11.8,327.3) rotate(-90)" font-size="11.5" fill="#111"><tspan font-style="italic">f</tspan><tspan font-size="11.5" dx="0.6" dy="5.3">α</tspan></text>
<text x="270" y="239.4" font-size="25" font-weight="bold" fill="#000">D</text>
<rect x="411.5" y="356.5" width="48" height="40.5" fill="none" stroke="#c4c4c4" stroke-width="1"/>
<polyline points="316.75,302.85 317.75,303.23 318.75,303.61 319.75,304.01 320.75,304.41 321.75,304.83 322.75,305.26 323.75,305.70 324.75,306.15 325.75,306.61 326.75,307.08 327.75,307.57 328.75,308.06 329.75,308.57 330.75,309.09 331.75,309.63 332.75,310.17 333.75,310.73 334.75,311.30 335.75,311.89 336.75,312.48 337.75,313.09 338.75,313.71 339.75,314.35 340.75,314.99 341.75,315.65 342.75,316.33 343.75,317.01 344.75,317.71 345.75,318.42 346.75,319.14 347.75,319.87 348.75,320.62 349.75,321.38 350.75,322.14 351.75,322.92 352.75,323.72 353.75,324.52 354.75,325.33 355.75,326.15 356.75,326.99 357.75,327.83 358.75,328.68 359.75,329.54 360.75,330.41 361.75,331.29 362.75,332.17 363.75,333.07 364.75,333.96 365.75,334.87 366.75,335.78 367.75,336.69 368.75,337.61 369.75,338.54 370.75,339.47 371.75,340.40 372.75,341.33 373.75,342.26 374.75,343.20 375.75,344.14 376.75,345.07 377.75,346.01 378.75,346.94 379.75,347.88 380.75,348.81 381.75,349.74 382.75,350.66 383.75,351.58 384.75,352.50 385.75,353.41 386.75,354.31 387.75,355.21 388.75,356.10 389.75,356.99 390.75,357.87 391.75,358.74 392.75,359.60 393.75,360.45 394.75,361.30 395.75,362.13 396.75,362.95 397.75,363.77 398.75,364.57 399.75,365.36 400.75,366.14 401.75,366.91 402.75,367.67 403.75,368.42 404.75,369.15 405.75,369.87 406.75,370.58 407.75,371.28 408.75,371.96 409.75,372.63 410.75,373.29 411.75,373.94 412.75,374.57 413.75,375.19 414.75,375.80 415.75,376.40 416.75,376.98 417.75,377.55 418.75,378.10 419.75,378.65 420.75,379.18 421.75,379.70 422.75,380.21 423.75,380.70 424.75,381.18 425.75,381.65 426.75,382.11 427.75,382.56 428.75,383.00 429.75,383.42 430.75,383.84 431.75,384.24 432.75,384.63 433.75,385.01 434.75,385.38 435.75,385.74 436.75,386.09 437.75,386.43 438.75,386.77 439.75,387.09 440.75,387.40 441.75,387.70 442.75,388.00 443.75,388.28 444.75,388.56 445.75,388.83 446.75,389.09 447.75,389.35 448.75,389.59 449.75,389.83 450.75,390.06 451.75,390.29 452.75,390.50 453.75,390.71 454.75,390.92 455.75,391.12 456.75,391.31 457.75,391.49 458.75,391.67 459.75,391.85 460.75,392.01 461.75,392.18 462.75,392.33 463.75,392.49 464.75,392.63 465.75,392.78 466.75,392.92 467.75,393.05 468.75,393.18 469.75,393.30 470.75,393.42 471.75,393.54 472.75,393.65 473.75,393.76 474.75,393.87 475.75,393.97 476.75,394.07 477.75,394.17 478.75,394.26 479.75,394.35 480.75,394.43 481.75,394.52 482.75,394.60 483.75,394.67 484.75,394.75 485.75,394.82 486.75,394.89 487.75,394.96 488.75,395.03 489.75,395.09 490.75,395.15 491.75,395.21 492.75,395.27 493.75,395.32 494.75,395.37 495.75,395.43 496.75,395.47 497.75,395.52 498.75,395.57 499.75,395.61 500.75,395.66 501.75,395.70 502.75,395.74 503.75,395.78 504.75,395.81 505.75,395.85 506.75,395.88 507.75,395.92 508.00,395.93" fill="none" stroke="#a8a8a8" stroke-width="1.5"/>
<polyline points="316.75,302.50 317.75,302.56 318.75,302.62 319.75,302.68 320.75,302.75 321.75,302.82 322.75,302.89 323.75,302.97 324.75,303.05 325.75,303.13 326.75,303.21 327.75,303.30 328.75,303.40 329.75,303.50 330.75,303.60 331.75,303.71 332.75,303.82 333.75,303.94 334.75,304.06 335.75,304.19 336.75,304.32 337.75,304.46 338.75,304.61 339.75,304.76 340.75,304.92 341.75,305.09 342.75,305.26 343.75,305.45 344.75,305.64 345.75,305.83 346.75,306.04 347.75,306.25 348.75,306.48 349.75,306.71 350.75,306.96 351.75,307.21 352.75,307.47 353.75,307.75 354.75,308.04 355.75,308.33 356.75,308.64 357.75,308.97 358.75,309.30 359.75,309.65 360.75,310.01 361.75,310.39 362.75,310.78 363.75,311.19 364.75,311.61 365.75,312.04 366.75,312.50 367.75,312.97 368.75,313.45 369.75,313.95 370.75,314.47 371.75,315.01 372.75,315.57 373.75,316.14 374.75,316.74 375.75,317.35 376.75,317.98 377.75,318.63 378.75,319.30 379.75,319.99 380.75,320.70 381.75,321.43 382.75,322.18 383.75,322.95 384.75,323.74 385.75,324.54 386.75,325.37 387.75,326.22 388.75,327.08 389.75,327.97 390.75,328.87 391.75,329.79 392.75,330.73 393.75,331.68 394.75,332.66 395.75,333.64 396.75,334.64 397.75,335.66 398.75,336.69 399.75,337.73 400.75,338.78 401.75,339.84 402.75,340.91 403.75,341.99 404.75,343.08 405.75,344.17 406.75,345.27 407.75,346.37 408.75,347.48 409.75,348.58 410.75,349.69 411.75,350.80 412.75,351.90 413.75,353.00 414.75,354.10 415.75,355.19 416.75,356.27 417.75,357.35 418.75,358.42 419.75,359.48 420.75,360.53 421.75,361.56 422.75,362.58 423.75,363.59 424.75,364.59 425.75,365.57 426.75,366.54 427.75,367.48 428.75,368.42 429.75,369.33 430.75,370.23 431.75,371.11 432.75,371.97 433.75,372.81 434.75,373.63 435.75,374.43 436.75,375.21 437.75,375.98 438.75,376.72 439.75,377.44 440.75,378.15 441.75,378.83 442.75,379.50 443.75,380.15 444.75,380.77 445.75,381.38 446.75,381.97 447.75,382.54 448.75,383.10 449.75,383.63 450.75,384.15 451.75,384.65 452.75,385.13 453.75,385.60 454.75,386.05 455.75,386.49 456.75,386.91 457.75,387.31 458.75,387.70 459.75,388.08 460.75,388.44 461.75,388.79 462.75,389.13 463.75,389.45 464.75,389.76 465.75,390.06 466.75,390.35 467.75,390.62 468.75,390.89 469.75,391.14 470.75,391.39 471.75,391.62 472.75,391.85 473.75,392.07 474.75,392.27 475.75,392.47 476.75,392.67 477.75,392.85 478.75,393.03 479.75,393.19 480.75,393.36 481.75,393.51 482.75,393.66 483.75,393.80 484.75,393.94 485.75,394.07 486.75,394.20 487.75,394.32 488.75,394.43 489.75,394.54 490.75,394.65 491.75,394.75 492.75,394.84 493.75,394.94 494.75,395.02 495.75,395.11 496.75,395.19 497.75,395.27 498.75,395.34 499.75,395.41 500.75,395.48 501.75,395.55 502.75,395.61 503.75,395.67 504.75,395.73 505.75,395.78 506.75,395.83 507.75,395.88 508.00,395.89" fill="none" stroke="#8c8c8c" stroke-width="1.5"/>
<polyline points="316.75,329.28 317.75,329.58 318.75,329.89 319.75,330.21 320.75,330.53 321.75,330.85 322.75,331.18 323.75,331.51 324.75,331.84 325.75,332.18 326.75,332.53 327.75,332.88 328.75,333.23 329.75,333.59 330.75,333.95 331.75,334.32 332.75,334.69 333.75,335.07 334.75,335.45 335.75,335.83 336.75,336.22 337.75,336.61 338.75,337.01 339.75,337.41 340.75,337.81 341.75,338.22 342.75,338.64 343.75,339.05 344.75,339.48 345.75,339.90 346.75,340.33 347.75,340.76 348.75,341.20 349.75,341.64 350.75,342.08 351.75,342.53 352.75,342.98 353.75,343.44 354.75,343.90 355.75,344.36 356.75,344.82 357.75,345.29 358.75,345.76 359.75,346.23 360.75,346.71 361.75,347.19 362.75,347.67 363.75,348.15 364.75,348.64 365.75,349.13 366.75,349.62 367.75,350.11 368.75,350.61 369.75,351.11 370.75,351.60 371.75,352.10 372.75,352.60 373.75,353.11 374.75,353.61 375.75,354.12 376.75,354.62 377.75,355.13 378.75,355.64 379.75,356.14 380.75,356.65 381.75,357.16 382.75,357.67 383.75,358.18 384.75,358.68 385.75,359.19 386.75,359.70 387.75,360.20 388.75,360.71 389.75,361.21 390.75,361.72 391.75,362.22 392.75,362.72 393.75,363.22 394.75,363.72 395.75,364.21 396.75,364.71 397.75,365.20 398.75,365.69 399.75,366.17 400.75,366.66 401.75,367.14 402.75,367.62 403.75,368.09 404.75,368.57 405.75,369.04 406.75,369.50 407.75,369.97 408.75,370.43 409.75,370.88 410.75,371.34 411.75,371.78 412.75,372.23 413.75,372.67 414.75,373.11 415.75,373.54 416.75,373.97 417.75,374.39 418.75,374.81 419.75,375.23 420.75,375.64 421.75,376.04 422.75,376.44 423.75,376.84 424.75,377.23 425.75,377.62 426.75,378.00 427.75,378.38 428.75,378.75 429.75,379.12 430.75,379.48 431.75,379.84 432.75,380.19 433.75,380.53 434.75,380.88 435.75,381.21 436.75,381.54 437.75,381.87 438.75,382.19 439.75,382.51 440.75,382.82 441.75,383.12 442.75,383.42 443.75,383.72 444.75,384.01 445.75,384.29 446.75,384.57 447.75,384.85 448.75,385.12 449.75,385.38 450.75,385.64 451.75,385.90 452.75,386.15 453.75,386.39 454.75,386.63 455.75,386.87 456.75,387.10 457.75,387.33 458.75,387.55 459.75,387.76 460.75,387.98 461.75,388.19 462.75,388.39 463.75,388.59 464.75,388.78 465.75,388.97 466.75,389.16 467.75,389.34 468.75,389.52 469.75,389.70 470.75,389.87 471.75,390.03 472.75,390.19 473.75,390.35 474.75,390.51 475.75,390.66 476.75,390.81 477.75,390.95 478.75,391.09 479.75,391.23 480.75,391.36 481.75,391.49 482.75,391.62 483.75,391.75 484.75,391.87 485.75,391.99 486.75,392.10 487.75,392.21 488.75,392.32 489.75,392.43 490.75,392.53 491.75,392.63 492.75,392.73 493.75,392.83 494.75,392.92 495.75,393.01 496.75,393.10 497.75,393.19 498.75,393.27 499.75,393.35 500.75,393.43 501.75,393.51 502.75,393.59 503.75,393.66 504.75,393.73 505.75,393.80 506.75,393.87 507.75,393.93 508.00,393.95" fill="none" stroke="#111" stroke-width="1.8"/>
<rect x="406.5" y="258.5" width="106.8" height="83.2" fill="#fff" stroke="#8a8a8a" stroke-width="1.1"/>
<clipPath id="cd"><rect x="406.5" y="258.5" width="106.8" height="83.2"/></clipPath>
<g clip-path="url(#cd)">
<path d="M421.00,250.00 C422.08,251.42 424.33,254.70 427.50,258.50 C430.67,262.30 435.42,267.23 440.00,272.80 C444.58,278.37 450.42,286.53 455.00,291.90 C459.58,297.27 463.67,301.22 467.50,305.00 C471.33,308.78 474.43,311.77 478.00,314.60 C481.57,317.43 483.73,319.10 488.90,322.00 C494.07,324.90 505.65,330.33 509.00,332.00" fill="none" stroke="#959595" stroke-width="1.1"/>
<path d="M406.50,291.90 C409.38,294.08 418.17,301.18 423.75,305.00 C429.33,308.82 434.79,311.87 440.00,314.80 C445.21,317.73 448.33,319.53 455.00,322.60 C461.67,325.67 471.00,330.27 480.00,333.20 C489.00,336.13 504.17,339.03 509.00,340.20" fill="none" stroke="#bdbdbd" stroke-width="1.1"/>
<path d="M406.50,285.60 C409.58,287.23 418.79,292.33 425.00,295.40 C431.21,298.47 438.75,301.77 443.75,304.00 C448.75,306.23 448.96,306.37 455.00,308.80 C461.04,311.23 471.00,315.47 480.00,318.60 C489.00,321.73 504.17,326.10 509.00,327.60" fill="none" stroke="#2a2a2a" stroke-width="1.3"/>
</g>
<line x1="459.4" y1="264.5" x2="472.5" y2="264.5" stroke="#666" stroke-width="1"/>
<line x1="459.4" y1="275.5" x2="472.5" y2="275.5" stroke="#c8c8c8" stroke-width="1"/>
<line x1="459.4" y1="287.5" x2="472.5" y2="287.5" stroke="#b0b0b0" stroke-width="1"/>
<text transform="translate(474.8,268.2) scale(1,1.045)" font-size="11.8" text-anchor="start" fill="#111" >B6</text>
<text transform="translate(474.8,279.3) scale(1,1.045)" font-size="11.8" text-anchor="start" fill="#111" >D2 (A)</text>
<text transform="translate(474.8,290.5) scale(1,1.045)" font-size="11.8" text-anchor="start" fill="#111" >D2 (B)</text>
<rect x="307.9" y="255.8" width="207.39999999999998" height="146.7" fill="none" stroke="#8c8c8c" stroke-width="1.2"/>
<line x1="300.79999999999995" y1="397.4" x2="307.9" y2="397.4" stroke="#5c5c5c" stroke-width="1"/>
<text transform="translate(298.3,397.4) rotate(-90) scale(1,1.045)" font-size="11.8" text-anchor="middle" fill="#111">0.0</text>
<line x1="300.79999999999995" y1="370.12" x2="307.9" y2="370.12" stroke="#5c5c5c" stroke-width="1"/>
<text transform="translate(298.3,370.12) rotate(-90) scale(1,1.045)" font-size="11.8" text-anchor="middle" fill="#111">0.2</text>
<line x1="300.79999999999995" y1="342.84" x2="307.9" y2="342.84" stroke="#5c5c5c" stroke-width="1"/>
<text transform="translate(298.3,342.84) rotate(-90) scale(1,1.045)" font-size="11.8" text-anchor="middle" fill="#111">0.4</text>
<line x1="300.79999999999995" y1="315.55999999999995" x2="307.9" y2="315.55999999999995" stroke="#5c5c5c" stroke-width="1"/>
<text transform="translate(298.3,315.55999999999995) rotate(-90) scale(1,1.045)" font-size="11.8" text-anchor="middle" fill="#111">0.6</text>
<line x1="300.79999999999995" y1="288.28" x2="307.9" y2="288.28" stroke="#5c5c5c" stroke-width="1"/>
<text transform="translate(298.3,288.28) rotate(-90) scale(1,1.045)" font-size="11.8" text-anchor="middle" fill="#111">0.8</text>
<line x1="300.79999999999995" y1="261.0" x2="307.9" y2="261.0" stroke="#5c5c5c" stroke-width="1"/>
<text transform="translate(298.3,261.0) rotate(-90) scale(1,1.045)" font-size="11.8" text-anchor="middle" fill="#111">1.0</text>
<line x1="315.2" y1="402.5" x2="315.2" y2="409.3" stroke="#5c5c5c" stroke-width="1"/>
<text transform="translate(315.2,421.4) scale(1,1.045)" font-size="11.8" text-anchor="middle" fill="#111" >0</text>
<line x1="347.28" y1="402.5" x2="347.28" y2="409.3" stroke="#5c5c5c" stroke-width="1"/>
<text transform="translate(347.28,421.4) scale(1,1.045)" font-size="11.8" text-anchor="middle" fill="#111" >20</text>
<line x1="379.36" y1="402.5" x2="379.36" y2="409.3" stroke="#5c5c5c" stroke-width="1"/>
<text transform="translate(379.36,421.4) scale(1,1.045)" font-size="11.8" text-anchor="middle" fill="#111" >40</text>
<line x1="411.44" y1="402.5" x2="411.44" y2="409.3" stroke="#5c5c5c" stroke-width="1"/>
<text transform="translate(411.44,421.4) scale(1,1.045)" font-size="11.8" text-anchor="middle" fill="#111" >60</text>
<line x1="443.52" y1="402.5" x2="443.52" y2="409.3" stroke="#5c5c5c" stroke-width="1"/>
<text transform="translate(443.52,421.4) scale(1,1.045)" font-size="11.8" text-anchor="middle" fill="#111" >80</text>
<line x1="475.6" y1="402.5" x2="475.6" y2="409.3" stroke="#5c5c5c" stroke-width="1"/>
<text transform="translate(475.6,421.4) scale(1,1.045)" font-size="11.8" text-anchor="middle" fill="#111" >100</text>
<line x1="507.68" y1="402.5" x2="507.68" y2="409.3" stroke="#5c5c5c" stroke-width="1"/>
<text transform="translate(507.68,421.4) scale(1,1.045)" font-size="11.8" text-anchor="middle" fill="#111" >120</text>
<text transform="translate(361.7,435.8) scale(1,1.045)" font-size="11.85" text-anchor="start" fill="#111" >cell number in GE</text>
<rect x="455.8" y="432.1" width="6" height="1.1" fill="#222"/>
<text x="462.8" y="435.7" font-size="14" fill="#111" style="font-family:'Liberation Serif',serif">Ω</text>
<text transform="translate(283,331.8) rotate(-90)" font-size="11.5" fill="#111"><tspan font-style="italic">f</tspan><tspan font-size="11" dx="0.8" dy="4.4">ω</tspan></text>
</svg></div></body></html>
